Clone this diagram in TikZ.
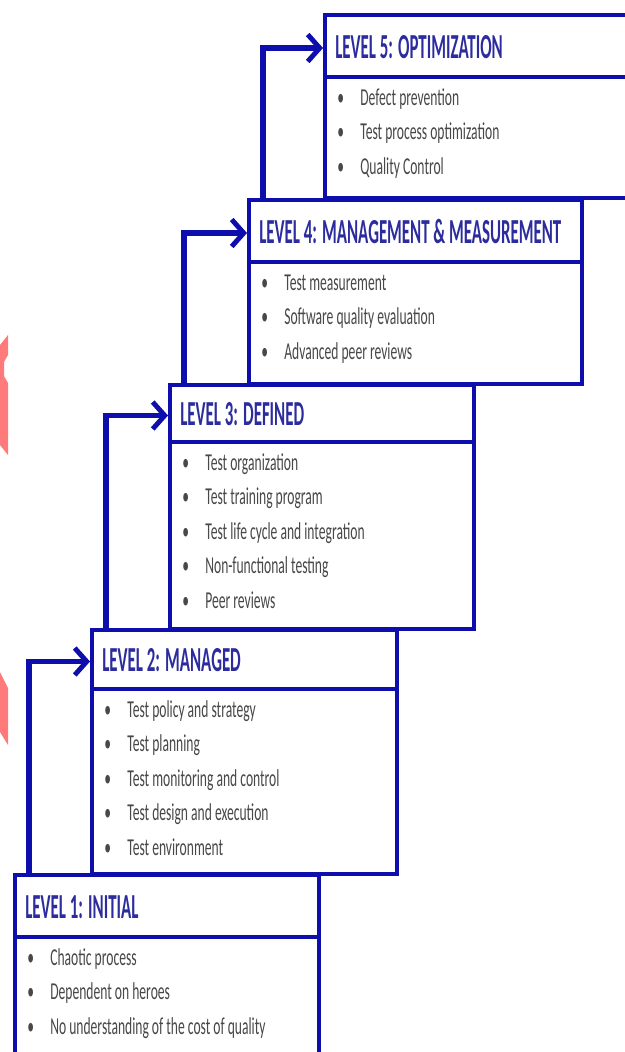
\documentclass[tikz,border=0pt]{standalone}
\usepackage{fontspec}
\setmainfont{Carlito}
\newfontfamily\headfont{Carlito}[FakeStretch=0.48]
\newfontfamily\itemfont{Carlito}[FakeStretch=0.56]
\usetikzlibrary{arrows.meta}
\usetikzlibrary{calc}
\usetikzlibrary{positioning}

\definecolor{boxblue}{RGB}{14,14,172}
\definecolor{headblue}{RGB}{44,44,158}
\definecolor{itemgray}{RGB}{72,72,72}
\definecolor{wmred}{RGB}{255,122,122}

\tikzset{
  box/.style={draw=boxblue, line width=2pt, fill=white, inner sep=0pt, anchor=north west},
  rule/.style={draw=boxblue, line width=2.4pt},
  head/.style={anchor=base west, inner sep=0pt, text=headblue, font=\headfont\bfseries\fontsize{20}{20}\selectfont},
  item/.style={anchor=base west, inner sep=0pt, text=itemgray, font=\itemfont\fontsize{13.8}{13.8}\selectfont},
  flow/.style={draw=boxblue, line width=3.4pt, -{Straight Barb[length=0.24cm, width=0.54cm, line width=2.8pt]}}
}

\begin{document}
\begin{tikzpicture}[x=0.02cm, y=-0.02cm]
      \useasboundingbox (0,0) rectangle (625,1052);

      % marks on the left edge
      \fill[wmred] (0,345) -- (8,335) -- (8,355) -- (4,362) -- (4,376) -- (8,383) -- (8,455) -- (0,445) -- cycle;
      \fill[wmred] (0,672) -- (8,688) -- (8,745) -- (0,732) -- cycle;

      % the five levels
      \foreach \n/\x/\y/\w/\h/\d/\t in {
          5/323/13/306/183/64/{LEVEL 5: OPTIMIZATION},
          4/247/198/333/184/64/{LEVEL 4: MANAGEMENT \& MEASUREMENT},
          3/168/383/304/244/59/{LEVEL 3: DEFINED},
          2/90/628/305/244/61/{LEVEL 2: MANAGED},
          1/13/873/304/186/64/{LEVEL 1: INITIAL}} {
        \node[box, minimum width=\w*0.02cm, minimum height=\h*0.02cm] (lv\n) at (\x,\y) {};
        \draw[rule] ($(lv\n.north west)+(0,\d)$) -- ($(lv\n.north east)+(0,\d)$);
        \node[head] (h\n) at ($(lv\n.north west)+(12,\d/2+13)$) {\t};
        \coordinate (a\n) at ($(lv\n.north west)+(0,\d/2+3)$);
        \coordinate (d\n) at ($(lv\n.north west)+(14,\d+28)$);
      }

      \foreach \t [count=\k] in {Defect prevention, Test process optimization, Quality Control}
        \node[item] (i5-\k) at ($(d5)+(0,{(\k-1)*34.5})$) {\makebox[0.46cm][l]{\textbullet}\t};
      \foreach \t [count=\k] in {Test measurement, Software quality evaluation, Advanced peer reviews}
        \node[item] (i4-\k) at ($(d4)+(0,{(\k-1)*34.5})$) {\makebox[0.46cm][l]{\textbullet}\t};
      \foreach \t [count=\k] in {Test organization, Test training program, Test life cycle and integration, Non-functional testing, Peer reviews}
        \node[item] (i3-\k) at ($(d3)+(0,{(\k-1)*34.5})$) {\makebox[0.46cm][l]{\textbullet}\t};
      \foreach \t [count=\k] in {Test policy and strategy, Test planning, Test monitoring and control, Test design and execution, Test environment}
        \node[item] (i2-\k) at ($(d2)+(0,{(\k-1)*34.5})$) {\makebox[0.46cm][l]{\textbullet}\t};
      \foreach \t [count=\k] in {Chaotic process, Dependent on heroes, No understanding of the cost of quality}
        \node[item] (i1-\k) at ($(d1)+(0,{(\k-1)*34.5})$) {\makebox[0.46cm][l]{\textbullet}\t};

      % steps up
      \foreach \a/\b in {1/2, 2/3, 3/4, 4/5}
        \draw[flow] ($(lv\a.north west)+(16,0)$) |- (a\b);
    \end{tikzpicture}
\end{document}
